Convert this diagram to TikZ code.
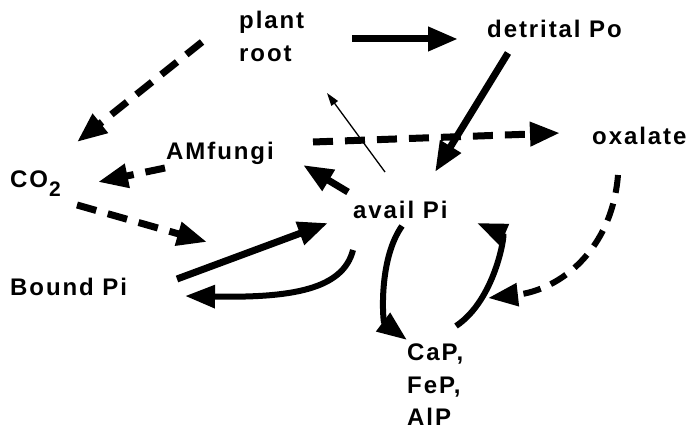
\documentclass[tikz,border=0pt]{standalone}
\usepackage{fontspec}
\setmainfont{Liberation Sans}[BoldFont={Liberation Sans Bold}, LetterSpace=8]
\usetikzlibrary{arrows.meta}
\begin{document}
\begin{tikzpicture}[x=1pt,y=-1pt,
  lbl/.style={inner sep=0pt, anchor=base west, font=\bfseries\fontsize{24}{28}\selectfont},
  big/.style={line width=7pt, -{Triangle[length=30pt,width=23pt]}},
  curv/.style={line width=6pt, -{Triangle[length=30pt,width=22pt]}},
  dsh/.style={big, dash pattern=on 20pt off 12pt},
  dshc/.style={curv, dash pattern=on 18pt off 11pt},
  thin/.style={line width=1.3pt, -{Triangle[length=13pt,width=8pt]}}]
\useasboundingbox (0,0) rectangle (691,430);
% labels
\node[lbl] (plant) at (239,29) {plant};
\node[lbl] (root) at (239,62) {root};
\node[lbl] (detrital) at (487,38) {detrital Po};
\node[lbl] (oxalate) at (592,145) {oxalate};
\node[lbl] (amfungi) at (166,160) {AMfungi};
\node[lbl] (co) at (10,188) {CO\hspace{1pt}\raisebox{-9pt}{\fontsize{21}{21}\selectfont 2}};
\node[lbl] (avail) at (353,219) {avail Pi};
\node[lbl] (bound) at (10,296) {Bound Pi};
\node[lbl] (cap) at (407,360) {CaP,};
\node[lbl] (fep) at (407,393) {FeP,};
\node[lbl] (alp) at (407,425) {AlP};
% endpoint coordinates
\coordinate (rootSW) at (202,42);
\coordinate (coN) at (77,142);
\coordinate (rootE) at (352,39);
\coordinate (detW) at (458,39);
\coordinate (detS) at (508,53);
\coordinate (availN) at (435,172);
\coordinate (amE) at (313,142);
\coordinate (oxW) at (560,133);
\coordinate (availNW) at (385,172);
\coordinate (rootS) at (327,93);
\coordinate (amW) at (165,168);
\coordinate (coE) at (98,182);
\coordinate (availW) at (348,192);
\coordinate (amSE) at (303,165);
\coordinate (coSE) at (77,205);
\coordinate (free) at (207,242);
\coordinate (boundE) at (177,279);
\coordinate (availSW) at (328,223);
\coordinate (availS) at (353,250);
\coordinate (boundSE) at (185,296);
\coordinate (availS2) at (402,226);
\coordinate (capNW) at (407,340);
\coordinate (capNE) at (456,326);
\coordinate (availSE) at (477,223);
\coordinate (oxS) at (618,175);
\coordinate (arcR) at (488,298);
% connectors
\draw[dsh] (rootSW) -- (coN);
\draw[big] (rootE) -- (detW);
\draw[big] (detS) -- (availN);
\draw[dsh] (amE) -- (oxW);
\draw[thin] (availNW) -- (rootS);
\draw[dsh] (amW) -- (coE);
\draw[big] (availW) -- (amSE);
\draw[dsh] (coSE) -- (free);
\draw[big] (boundE) -- (availSW);
\draw[curv] (availS) .. controls (343,290) and (290,298) .. (boundSE);
\draw[curv] (availS2) .. controls (378,260) and (383,322) .. (capNW);
\draw[curv] (capNE) .. controls (495,300) and (505,235) .. (availSE);
\draw[dshc] (oxS) .. controls (612,250) and (560,290) .. (arcR);
\end{tikzpicture}
\end{document}
